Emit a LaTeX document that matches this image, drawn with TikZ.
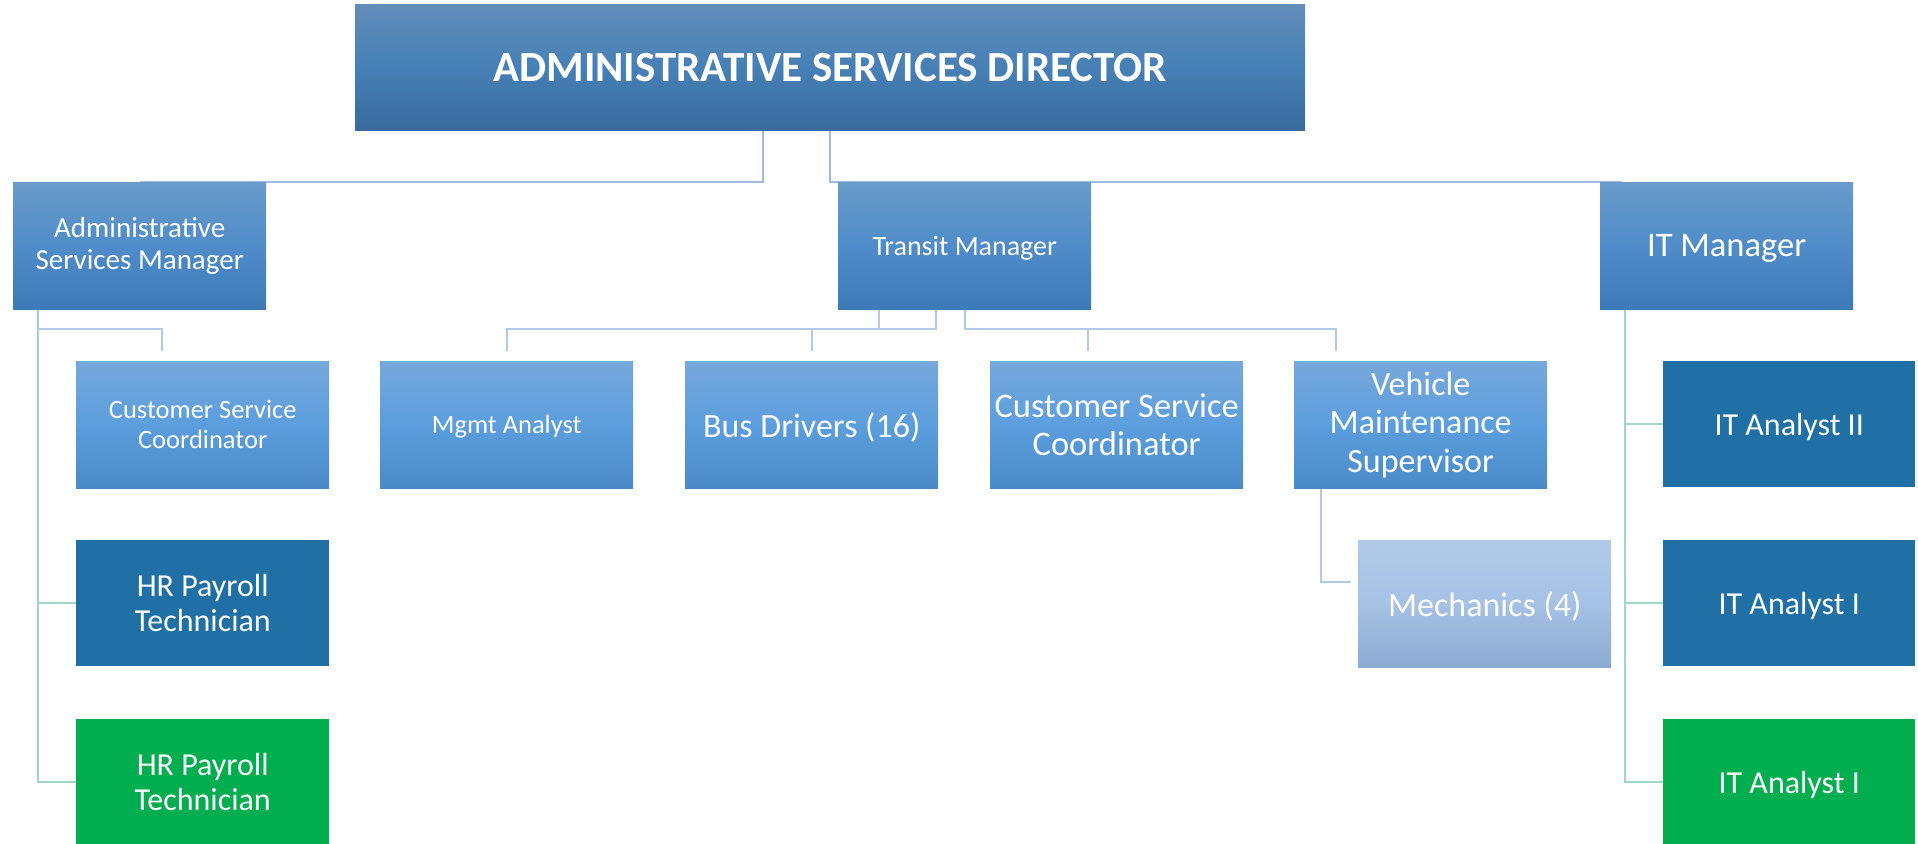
\documentclass[tikz,border=0pt]{standalone}
\usepackage{fontspec}
\setmainfont{Carlito}
\usetikzlibrary{backgrounds}
\definecolor{dirTop}{HTML}{638DBA}
\definecolor{dirMid}{HTML}{4680B6}
\definecolor{dirBot}{HTML}{3A6B9F}
\definecolor{lvTop}{HTML}{6A9BCA}
\definecolor{lvMid}{HTML}{4F8CC9}
\definecolor{lvBot}{HTML}{3D7AB8}
\definecolor{stTop}{HTML}{77A8DC}
\definecolor{stMid}{HTML}{5C9EDD}
\definecolor{stBot}{HTML}{4A8AC8}
\definecolor{meTop}{HTML}{B1CAE8}
\definecolor{meMid}{HTML}{A5C1E4}
\definecolor{meBot}{HTML}{8DAAD3}
\definecolor{darkBox}{HTML}{2070A5}
\definecolor{greenBox}{HTML}{00AE4F}
\definecolor{lineBlue}{HTML}{9FBCE0}
\definecolor{lineLight}{HTML}{B2C9E8}
\definecolor{lineTeal}{HTML}{A0D5C8}
\newcommand{\fs}[2]{\fontsize{#1pt}{#2pt}\selectfont}
\tikzset{
  box/.style={draw=none, inner sep=2pt, text=white, align=center, anchor=north west,
    minimum width=253pt, minimum height=127pt},
  single/.style={text depth=0pt},
  dirbox/.style={box, top color=dirTop, bottom color=dirBot, middle color=dirMid},
  lvbox/.style={box, top color=lvTop, bottom color=lvBot, middle color=lvMid},
  stbox/.style={box, top color=stTop, bottom color=stBot, middle color=stMid},
  mebox/.style={box, top color=meTop, bottom color=meBot, middle color=meMid},
  darkbox/.style={box, fill=darkBox},
  greenbox/.style={box, fill=greenBox},
  conn/.style={draw=lineBlue, line width=2pt},
  connlight/.style={draw=lineLight, line width=2pt},
  connteal/.style={draw=lineTeal, line width=2pt}
}
\begin{document}
\begin{tikzpicture}[x=1pt,y=-1pt]
\useasboundingbox (0,0) rectangle (1918,843);
\node[dirbox, minimum width=950pt, minimum height=126pt, font={\fs{43}{47}\bfseries}] (dir) at (355,4)
  {ADMINISTRATIVE SERVICES DIRECTOR};
\node[lvbox, font={\fs{29}{31.5}}] (asm) at (13,182) {Administrative\\Services Manager};
\node[lvbox, single, font={\fs{28}{31}}] (tm) at (838,182) {Transit Manager};
\node[lvbox, single, font={\fs{34.5}{38}}] (itm) at (1600,182) {IT Manager};
\node[stbox, font={\fs{26.5}{29.5}}] (csc1) at (76,361) {Customer Service\\Coordinator};
\node[stbox, single, font={\fs{26.5}{29.5}}] (mgmt) at (380,361) {Mgmt Analyst};
\node[stbox, single, font={\fs{34}{37}}] (bus) at (685,361) {Bus Drivers (16)};
\node[stbox, font={\fs{34.5}{37.5}}] (csc2) at (990,361) {Customer Service\\Coordinator};
\node[stbox, font={\fs{34}{38.5}}] (vms) at (1294,361) {Vehicle\\Maintenance\\Supervisor};
\node[darkbox, single, minimum width=252pt, minimum height=126pt, font={\fs{32}{35}}] (ita2) at (1663,361) {IT Analyst II};
\node[darkbox, minimum height=126pt, font={\fs{32}{35}}] (hr1) at (76,540) {HR Payroll\\Technician};
\node[mebox, single, font={\fs{34}{37}}] (mech) at (1358,540) {Mechanics (4)};
\node[darkbox, single, minimum width=252pt, minimum height=126pt, font={\fs{32}{35}}] (ita1) at (1663,540) {IT Analyst I};
\node[greenbox, minimum height=126pt, font={\fs{32}{35}}] (hr2) at (76,719) {HR Payroll\\Technician};
\node[greenbox, single, minimum width=252pt, minimum height=126pt, font={\fs{32}{35}}] (ita3) at (1663,719) {IT Analyst I};
\begin{scope}[on background layer]
% director to managers
\draw[conn] ([xshift=-67pt]dir.south) |- (asm.north);
\draw[conn] (dir.south) |- ([xshift=-104.5pt]itm.north);
% administrative services manager
\draw[connlight] ([xshift=-101.5pt]asm.south) -- ++(0,20) -| ([xshift=-40.5pt,yshift=10pt]csc1.north);
\draw[connteal] ([xshift=-101.5pt]asm.south) |- (hr1.west);
\draw[connteal] ([xshift=-101.5pt]asm.south) |- (hr2.west);
% transit manager
\draw[connlight] ([xshift=-28.5pt]tm.south) -- ++(0,20) -| ([yshift=10pt]mgmt.north);
\draw[connlight] ([xshift=-85.5pt]tm.south) -- ++(0,20) -| ([yshift=10pt]bus.north);
\draw[connlight] (tm.south) -- ++(0,20) -| ([xshift=-28.5pt,yshift=10pt]csc2.north);
\draw[connlight] (tm.south) -- ++(0,20) -| ([xshift=-84.5pt,yshift=10pt]vms.north);
\draw[connlight] ([xshift=-99.5pt]vms.south) |- ([xshift=-7pt,yshift=22pt]mech.west);
% IT manager
\draw[connteal] ([xshift=-101.5pt]itm.south) |- (ita2.west);
\draw[connteal] ([xshift=-101.5pt]itm.south) |- (ita1.west);
\draw[connteal] ([xshift=-101.5pt]itm.south) |- (ita3.west);
\end{scope}
\end{tikzpicture}
\end{document}
